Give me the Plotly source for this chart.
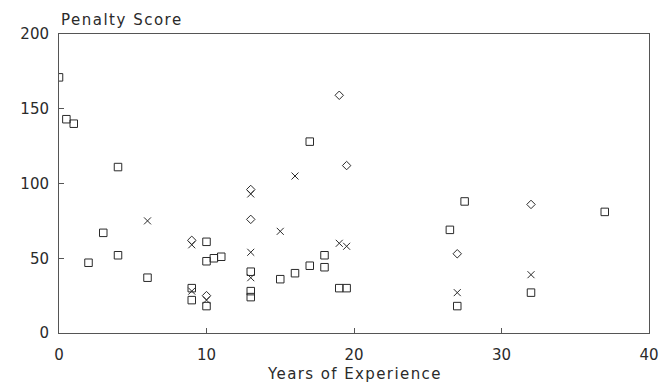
import plotly.graph_objects as go

# Squares
sq_x = [0, 0.5, 1, 2, 3, 4, 4, 6, 9, 9, 10, 10, 10, 10.5, 11, 13, 13, 13, 15, 16, 17, 17, 18, 18, 19, 19.5, 26.5, 27.5, 27, 32, 37]
sq_y = [171, 143, 140, 47, 67, 111, 52, 37, 30, 22, 61, 48, 18, 50, 51, 41, 28, 24, 36, 40, 128, 45, 52, 44, 30, 30, 69, 88, 18, 27, 81]

# Crosses
cx_x = [6, 9, 9, 10, 13, 13, 13, 15, 16, 19, 19.5, 27, 32]
cx_y = [75, 59, 28, 22, 93, 54, 37, 68, 105, 60, 58, 27, 39]

# Diamonds
dm_x = [9, 10, 13, 13, 19, 19.5, 27, 32]
dm_y = [62, 25, 96, 76, 159, 112, 53, 86]

x_ticks = [0, 10, 20, 30, 40]
y_ticks = [0, 50, 100, 150, 200]

y_title = "Penalty Score"
x_title = "Years of Experience"

ink = "#2a2a2a"
font = "DejaVu Sans"

fig = go.Figure()
fig.add_trace(go.Scatter(x=sq_x, y=sq_y, mode="markers", name="Squares",
                         marker=dict(symbol="square-open", size=7.5, color=ink, line=dict(width=1, color=ink))))
fig.add_trace(go.Scatter(x=cx_x, y=cx_y, mode="markers", name="Crosses",
                         marker=dict(symbol="x-thin-open", size=7, color=ink, line=dict(width=1, color=ink))))
fig.add_trace(go.Scatter(x=dm_x, y=dm_y, mode="markers", name="Diamonds",
                         marker=dict(symbol="diamond-open", size=6.5, color=ink, line=dict(width=1, color=ink))))

axis_common = dict(showgrid=False, zeroline=False, showline=True, linecolor="#555", linewidth=1,
                   mirror=True, ticks="inside", ticklen=5, tickcolor="#555",
                   tickfont=dict(family=font, size=15, color=ink))

def spaced(t, px):
    return f'<span style="letter-spacing:{px}px">{t}</span>'

# the page body has an 8px margin, so the figure is sized/offset to compensate
fig.update_layout(
    width=663, height=377,
    margin=dict(l=44, r=13, t=26, b=52),
    paper_bgcolor="white", plot_bgcolor="white",
    showlegend=False,
    xaxis=dict(range=[0, 40], tickvals=x_ticks, ticktext=[str(v) for v in x_ticks],
               ticklabelstandoff=8, **axis_common),
    yaxis=dict(range=[0, 200], tickvals=y_ticks, ticktext=[str(v) for v in y_ticks],
               ticklabelstandoff=6, **axis_common),
    annotations=[
        dict(text=spaced(y_title, 1.5), xref="paper", yref="paper", x=0, y=1.047, xanchor="left",
             yanchor="middle", showarrow=False, font=dict(family=font, size=15, color=ink)),
        dict(text=spaced(x_title, 1.4), xref="paper", yref="paper", x=0.5, y=-0.136, xanchor="center",
             yanchor="middle", showarrow=False, font=dict(family=font, size=15, color=ink)),
    ],
)

fig.write_html("out.html")
